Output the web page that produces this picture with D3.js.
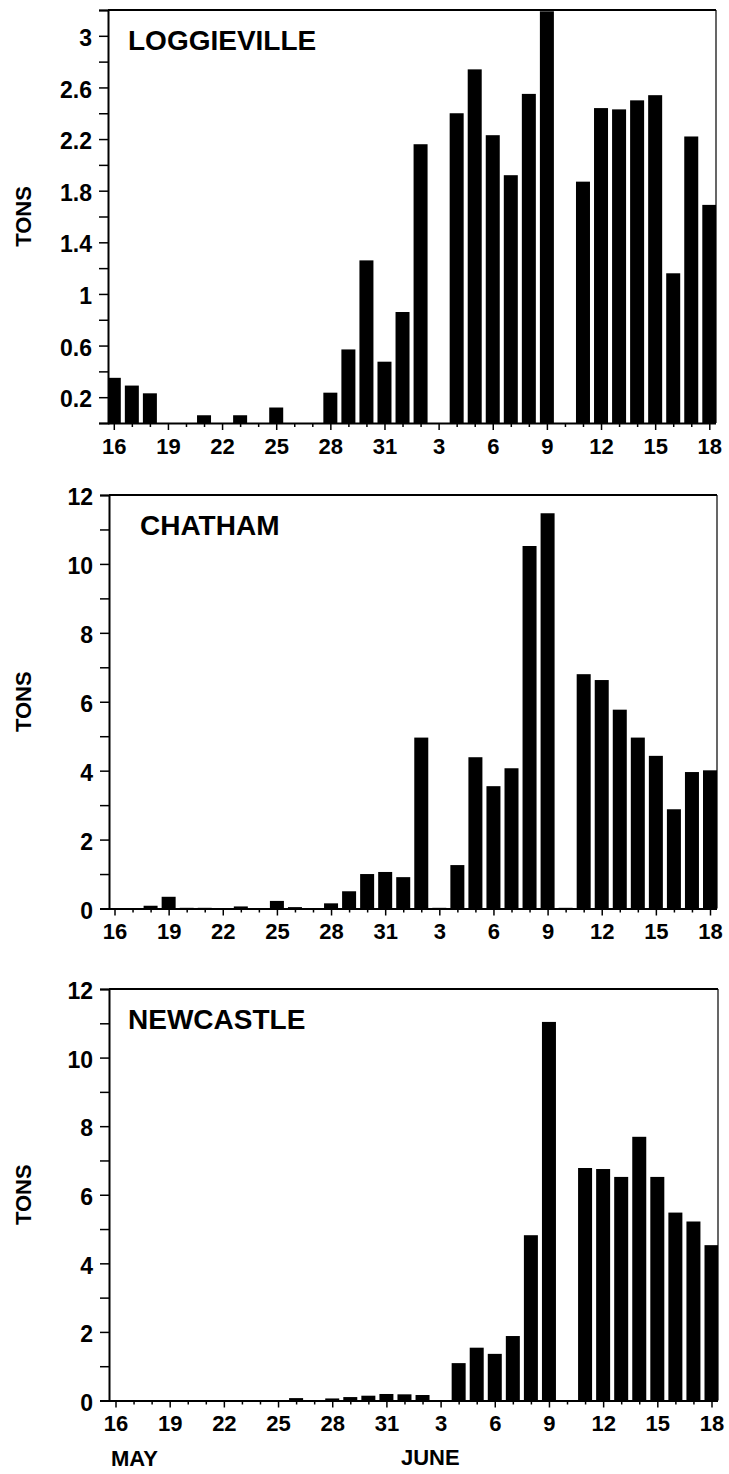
<!DOCTYPE html>
<html><head><meta charset="utf-8">
<script src="https://cdn.jsdelivr.net/npm/d3@7"></script>
<style>
body{margin:0;background:#fff}
svg{display:block}
text{font-family:"Liberation Sans",Arial,Helvetica,sans-serif;font-weight:bold;fill:#000}
</style>
</head><body>
<svg id="chart" width="729" height="1474"></svg>
<script>
// ---- data ----
const days = ["16","17","18","19","20","21","22","23","24","25","26","27","28","29","30","31",
              "1","2","3","4","5","6","7","8","9","10","11","12","13","14","15","16","17","18"];
const tickLabels = ["16","19","22","25","28","31","3","6","9","12","15","18"];
const stations = ["LOGGIEVILLE","CHATHAM","NEWCASTLE"];
const loggieville = [0.35,0.29,0.23,0,0,0.06,0,0.06,0,0.12,0,0,0.235,0.57,1.26,0.475,
                     0.86,2.16,0,2.40,2.74,2.23,1.92,2.55,3.19,0,1.87,2.44,2.43,2.50,2.54,1.16,2.22,1.69];
const chatham = [0,0,0.08,0.34,0.02,0.02,0.01,0.06,0,0.22,0.04,0,0.15,0.5,1.0,1.06,
                 0.91,4.96,0.02,1.26,4.39,3.55,4.07,10.52,11.47,0.02,6.80,6.63,5.77,4.96,4.43,2.88,3.96,4.01];
const newcastle = [0,0,0,0,0,0,0.01,0.01,0.01,0.01,0.07,0,0.06,0.1,0.14,0.19,
                   0.18,0.16,0,1.09,1.54,1.36,1.88,4.82,11.04,0,6.78,6.75,6.52,7.69,6.52,5.48,5.22,4.53];
const yTicksLoggieville = [0,0.2,0.4,0.6,0.8,1,1.2,1.4,1.6,1.8,2,2.2,2.4,2.6,2.8,3,3.2];
const yLabelsLoggieville = [0.2,0.6,1,1.4,1.8,2.2,2.6,3];
const yTicksCount = [0,1,2,3,4,5,6,7,8,9,10,11,12];
const yLabelsCount = [0,2,4,6,8,10,12];
const yAxisTitle = "TONS";
const monthLabels = ["MAY","JUNE"];

// ---- layout ----
const panels = [
  {name: stations[0], values: loggieville, ymax: 3.2, ticks: yTicksLoggieville, labels: yLabelsLoggieville,
   left: 108, right: 716, top: 10, bottom: 423, c0: 113.8, c33: 709.3},
  {name: stations[1], values: chatham, ymax: 12, ticks: yTicksCount, labels: yLabelsCount,
   left: 109, right: 717, top: 495, bottom: 908.5, c0: 114.5, c33: 710},
  {name: stations[2], values: newcastle, ymax: 12, ticks: yTicksCount, labels: yLabelsCount,
   left: 109, right: 718, top: 989, bottom: 1400.5, c0: 115.5, c33: 711.5}
];

const svg = d3.select("#chart");
svg.append("rect").attr("width",729).attr("height",1474).attr("fill","#fff");

panels.forEach((p, pi) => {
  const g = svg.append("g");
  const x = d3.scaleLinear().domain([0, days.length - 1]).range([p.c0, p.c33]);
  const y = d3.scaleLinear().domain([0, p.ymax]).range([p.bottom, p.top]);
  const barW = 14;

  const clipId = "clip" + pi;
  g.append("clipPath").attr("id", clipId).append("rect")
    .attr("x", p.left).attr("y", p.top).attr("width", p.right - p.left).attr("height", p.bottom - p.top);

  g.append("g").attr("clip-path", `url(#${clipId})`)
    .selectAll("rect").data(p.values.map((v, i) => ({v, i})).filter(d => d.v > 0))
    .join("rect")
    .attr("x", d => x(d.i) - barW / 2)
    .attr("width", barW)
    .attr("y", d => y(d.v))
    .attr("height", d => y(0) - y(d.v))
    .attr("fill", "#000");

  // frame
  g.append("line").attr("x1", p.left).attr("x2", p.right).attr("y1", p.top).attr("y2", p.top)
    .attr("stroke", "#000").attr("stroke-width", 2);
  g.append("line").attr("x1", p.right).attr("x2", p.right).attr("y1", p.top).attr("y2", p.bottom)
    .attr("stroke", "#000").attr("stroke-width", 1.2);

  // y axis
  const fmt = d3.format("~g");
  const yAxis = d3.axisLeft(y).tickValues(p.ticks).tickSize(9).tickPadding(7)
    .tickFormat(d => p.labels.some(l => Math.abs(l - d) < 1e-9) ? fmt(d) : "");
  const ya = g.append("g").attr("transform", `translate(${p.left},0)`).call(yAxis);
  ya.select(".domain").attr("stroke-width", 2);
  ya.selectAll(".tick line").attr("stroke-width", 1.5);
  ya.selectAll(".tick text").attr("dy", "0.42em")
    .style("font-size", "23px")
    .style("font-family", '"Liberation Sans",Arial,sans-serif').style("font-weight", "bold");

  // x axis
  const xAxis = d3.axisBottom(x).tickValues(d3.range(days.length)).tickSize(7).tickPadding(8)
    .tickFormat(i => i % 3 === 0 ? tickLabels[i / 3] : "");
  const xa = g.append("g").attr("transform", `translate(0,${p.bottom})`).call(xAxis);
  xa.select(".domain").attr("d", `M${p.left},0.5H${p.right}`).attr("stroke-width", 1.8);
  xa.selectAll(".tick line").attr("stroke-width", 1.5)
    .attr("y2", i => i % 3 === 0 ? 7 : 4);
  xa.selectAll(".tick text")
    .style("font-size", "22px")
    .style("font-family", '"Liberation Sans",Arial,sans-serif').style("font-weight", "bold");

  // station title
  g.append("text").attr("x", pi === 1 ? 140 : 128).attr("y", p.top + 40)
    .style("font-size", "28px").text(p.name);

  // y title
  g.append("text").attr("transform", `translate(31,${(p.top + p.bottom) / 2}) rotate(-90)`)
    .attr("text-anchor", "middle").style("font-size", "22px").text(yAxisTitle);
});

// month labels
svg.append("text").attr("x", 111).attr("y", 1466).style("font-size", "22px").text(monthLabels[0]);
svg.append("text").attr("x", 401).attr("y", 1465).style("font-size", "22px").text(monthLabels[1]);
</script>
</body></html>
